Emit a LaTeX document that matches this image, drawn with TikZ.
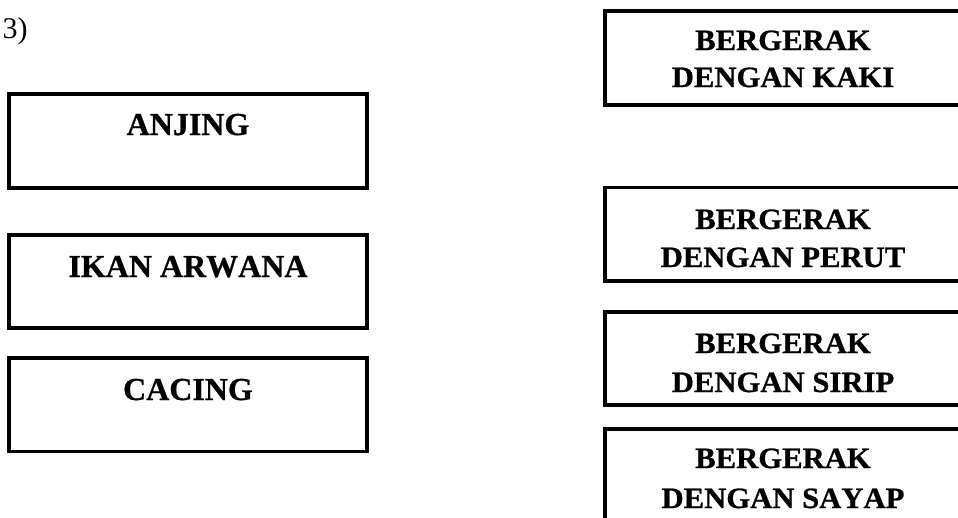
\documentclass[tikz,border=0pt]{standalone}
\usepackage{fontspec}
\setmainfont{Liberation Serif}
\newfontfamily\lfont{Liberation Serif}[Kerning=Off,FakeBold=0.8]
\newfontfamily\rfont{Liberation Serif}[FakeStretch=1.04,Kerning=Off,FakeBold=0.8]
\tikzset{
  box/.style={draw, line width=3.8pt, inner sep=0pt},
  lbox/.style={box, minimum width=358pt, minimum height=93.5pt},
  rbox/.style={box, minimum width=357pt, minimum height=93.5pt},
  ltext/.style={anchor=base, inner sep=0pt, font=\lfont\bfseries\fontsize{32}{32}\selectfont},
  rtext/.style={anchor=base, inner sep=0pt, font=\rfont\bfseries\fontsize{29.5}{29.5}\selectfont},
  numtext/.style={anchor=base west, inner sep=0pt, font=\fontsize{30}{30}\selectfont}
}
\begin{document}
\begin{tikzpicture}[x=1pt,y=-1pt]
\useasboundingbox (0,0) rectangle (958,517);
\clip (0,0) rectangle (958,517);
\node[numtext] (num) at (2.5,38) {3)};
% left boxes
\node[lbox] (anjing) at (188,141) {};
\node[ltext] (tanjing) at (188,135) {ANJING};
\node[lbox] (ikan) at (188,281.5) {};
\node[ltext] (tikan) at (188,277) {IKAN ARWANA};
\node[lbox] (cacing) at (188,404.75) {};
\node[ltext] (tcacing) at (188,400) {CACING};
% right boxes
\node[rbox] (kaki) at (783.5,58) {};
\node[rtext] (tkaki1) at (783,50) {BERGERAK};
\node[rtext] (tkaki2) at (783,87) {DENGAN KAKI};
\node[rbox] (perut) at (783.5,234.25) {};
\node[rtext] (tperut1) at (783,229) {BERGERAK};
\node[rtext] (tperut2) at (783,267) {DENGAN PERUT};
\node[rbox] (sirip) at (783.5,358.5) {};
\node[rtext] (tsirip1) at (783,353) {BERGERAK};
\node[rtext] (tsirip2) at (783,392) {DENGAN SIRIP};
\node[rbox] (sayap) at (783.5,475.5) {};
\node[rtext] (tsayap1) at (783,468) {BERGERAK};
\node[rtext] (tsayap2) at (783,508) {DENGAN SAYAP};
\end{tikzpicture}
\end{document}
